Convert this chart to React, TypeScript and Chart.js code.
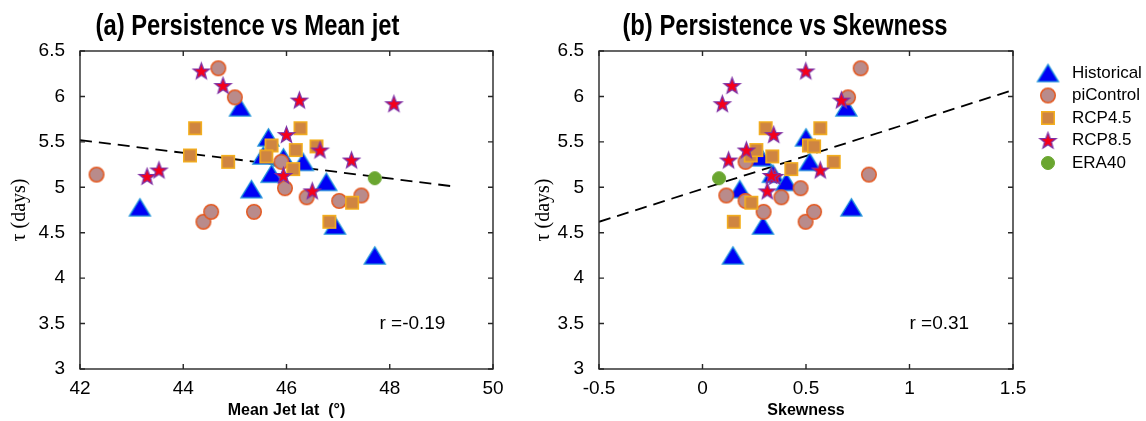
import { useEffect, useRef } from "react";
import { Chart, registerables } from "chart.js";
Chart.register(...registerables);

// ---------- data ----------
const tauHistorical = [4.78, 5.88, 4.98, 5.55, 5.35, 5.15, 5.33, 5.28, 5.06, 4.58, 4.25];
const jetHistorical = [43.16, 45.1, 45.32, 45.65, 45.55, 45.71, 45.94, 46.32, 46.77, 46.94, 47.71];
const skewHistorical = [0.719, 0.695, 0.18, 0.5, 0.27, 0.34, 0.285, 0.518, 0.405, 0.292, 0.147];

const tauPiControl = [6.31, 5.99, 5.14, 4.62, 4.73, 4.73, 5.28, 4.99, 4.89, 4.85, 4.91];
const jetPiControl = [44.68, 45.0, 42.32, 44.39, 44.54, 45.37, 45.9, 45.97, 46.39, 47.02, 47.45];
const skewPiControl = [0.764, 0.703, 0.804, 0.498, 0.539, 0.295, 0.208, 0.474, 0.381, 0.208, 0.115];

const tauRCP45 = [5.65, 5.65, 5.35, 5.28, 5.46, 5.34, 5.41, 5.45, 5.2, 4.62, 4.83];
const jetRCP45 = [44.23, 46.27, 44.13, 44.87, 45.71, 45.61, 46.18, 46.58, 46.13, 46.83, 47.27];
const skewRCP45 = [0.305, 0.569, 0.233, 0.634, 0.514, 0.337, 0.26, 0.539, 0.429, 0.151, 0.236];

const tauRCP85 = [6.28, 6.12, 5.96, 5.92, 5.58, 5.41, 5.3, 5.12, 5.19, 5.13, 4.96];
const jetRCP85 = [44.35, 44.77, 46.25, 48.08, 46.0, 46.65, 47.26, 43.3, 43.53, 45.94, 46.5];
const skewRCP85 = [0.499, 0.143, 0.671, 0.096, 0.344, 0.212, 0.126, 0.349, 0.569, 0.333, 0.313];

const tauERA40 = [5.1];
const jetERA40 = [47.71];
const skewERA40 = [0.08];

// regression line end points
const fitJetX = [42, 49.23];
const fitJetY = [5.52, 5.01];
const fitSkewX = [-0.5, 1.5];
const fitSkewY = [4.62, 6.07];

// tick labels
const tauTicks = [3, 3.5, 4, 4.5, 5, 5.5, 6, 6.5];
const jetTicks = [42, 44, 46, 48, 50];
const skewTicks = [-0.5, 0, 0.5, 1, 1.5];

const seriesLabels = ["Historical", "piControl", "RCP4.5", "RCP8.5", "ERA40"];
const rJet = "r =-0.19";
const rSkew = "r =0.31";

// ---------- styling ----------
const SANS = "'Liberation Sans', Arial, Helvetica, sans-serif";
const SERIF = "'Liberation Serif', 'DejaVu Serif', serif";

type Shape = "triangle" | "circle" | "square" | "star";

function makeMarker(shape: Shape, size: number, fill: string, stroke: string, lw: number): HTMLCanvasElement {
  const pad = 2;
  const s = Math.ceil(size + pad * 2);
  const c = document.createElement("canvas");
  c.width = s;
  c.height = s;
  const ctx = c.getContext("2d")!;
  const cx = s / 2;
  const cy = s / 2;
  const r = size / 2;
  ctx.fillStyle = fill;
  ctx.strokeStyle = stroke;
  ctx.lineWidth = lw;
  ctx.lineJoin = "miter";
  ctx.beginPath();
  if (shape === "triangle") {
    const h = size * 0.82;
    ctx.moveTo(cx, cy - h / 2);
    ctx.lineTo(cx + r, cy + h / 2);
    ctx.lineTo(cx - r, cy + h / 2);
    ctx.closePath();
  } else if (shape === "circle") {
    ctx.arc(cx, cy, r - lw / 2, 0, Math.PI * 2);
  } else if (shape === "square") {
    const h = r - lw / 2;
    ctx.rect(cx - h, cy - h, 2 * h, 2 * h);
  } else {
    const ro = r;
    const ri = r * 0.42;
    for (let i = 0; i < 10; i++) {
      const a = -Math.PI / 2 + (i * Math.PI) / 5;
      const rr = i % 2 === 0 ? ro : ri;
      const px = cx + rr * Math.cos(a);
      const py = cy + rr * Math.sin(a) + r * 0.08;
      if (i === 0) ctx.moveTo(px, py);
      else ctx.lineTo(px, py);
    }
    ctx.closePath();
  }
  ctx.fill();
  ctx.stroke();
  return c;
}

function zip(xs: number[], ys: number[]) {
  return xs.map((x, i) => ({ x, y: ys[i] }));
}

const framePlugin = {
  id: "frame",
  afterDatasetsDraw(chart: any) {
    const { ctx, chartArea } = chart;
    const { left, right, top, bottom } = chartArea;
    const xs = chart.scales.x;
    const ys = chart.scales.y;
    ctx.save();
    ctx.strokeStyle = "#262626";
    ctx.lineWidth = 1.4;
    ctx.strokeRect(left, top, right - left, bottom - top);
    const tl = 5;
    ctx.beginPath();
    xs.ticks.forEach((t: any) => {
      const px = xs.getPixelForValue(t.value);
      ctx.moveTo(px, bottom);
      ctx.lineTo(px, bottom - tl);
      ctx.moveTo(px, top);
      ctx.lineTo(px, top + tl);
    });
    ys.ticks.forEach((t: any) => {
      const py = ys.getPixelForValue(t.value);
      ctx.moveTo(left, py);
      ctx.lineTo(left + tl, py);
      ctx.moveTo(right, py);
      ctx.lineTo(right - tl, py);
    });
    ctx.stroke();
    ctx.restore();
  },
};

const rLabelPlugin = {
  id: "rlabel",
  afterDatasetsDraw(chart: any, _args: any, opts: any) {
    if (!opts || !opts.text) return;
    const { ctx } = chart;
    const px = chart.scales.x.getPixelForValue(opts.x);
    const py = chart.scales.y.getPixelForValue(opts.y);
    ctx.save();
    ctx.font = `19px ${SANS}`;
    ctx.fillStyle = "#000";
    ctx.textAlign = "left";
    ctx.textBaseline = "middle";
    ctx.fillText(opts.text, px, py);
    ctx.restore();
  },
};

// condensed bold panel title (Helvetica-Narrow look)
const narrowTitlePlugin = {
  id: "narrowTitle",
  afterDraw(chart: any, _args: any, opts: any) {
    if (!opts || !opts.text) return;
    const { ctx } = chart;
    ctx.save();
    ctx.translate(opts.cx, opts.baseline);
    ctx.scale(opts.squeeze, 1);
    ctx.font = `bold ${opts.size}px ${SANS}`;
    ctx.fillStyle = "#000";
    ctx.textAlign = "center";
    ctx.textBaseline = "alphabetic";
    ctx.fillText(opts.text, 0, 0);
    ctx.restore();
  },
};

const legendPlugin = {
  id: "sideLegend",
  afterDraw(chart: any, _args: any, opts: any) {
    if (!opts || !opts.show) return;
    const { ctx } = chart;
    ctx.save();
    ctx.font = `17px ${SANS}`;
    ctx.fillStyle = "#000";
    ctx.textAlign = "left";
    ctx.textBaseline = "middle";
    chart.data.datasets.forEach((ds: any, i: number) => {
      if (ds.isFit) return;
      const y = opts.y0 + i * opts.dy;
      const img = opts.icons[i];
      ctx.drawImage(img, opts.x - img.width / 2, y - img.height / 2);
      ctx.fillText(ds.label, opts.x + opts.textGap, y);
    });
    ctx.restore();
  },
};

function buildConfig(p: {
  title: string;
  titleCx: number;
  xTitle: string;
  xMin: number;
  xMax: number;
  xTicks: number[];
  xs: number[][];
  fitX: number[];
  fitY: number[];
  rText: string;
  rX: number;
  yAxisWidth: number;
  padRight: number;
  icons: HTMLCanvasElement[];
  legend: boolean;
  legendX: number;
}) {
  const ysAll = [tauHistorical, tauPiControl, tauRCP45, tauRCP85, tauERA40];
  const datasets: any[] = seriesLabels.map((label, i) => ({
    label,
    data: zip(p.xs[i], ysAll[i]),
    pointStyle: p.icons[i],
    pointRadius: 3,
    pointHoverRadius: 3,
    order: 5 - i,
  }));
  datasets.push({
    label: "fit",
    isFit: true,
    data: zip(p.fitX, p.fitY),
    showLine: true,
    borderColor: "#000",
    borderWidth: 1.8,
    borderDash: [12, 7],
    pointRadius: 0,
    pointHoverRadius: 0,
    fill: false,
    order: 10,
  });
  return {
    type: "scatter",
    data: { datasets },
    options: {
      responsive: false,
      animation: false,
      devicePixelRatio: 1,
      events: [],
      layout: { padding: { left: 0, right: p.padRight, top: 51, bottom: 0 } },
      plugins: {
        legend: { display: false },
        tooltip: { enabled: false },
        title: { display: false },
        narrowTitle: { text: p.title, cx: p.titleCx, baseline: 35, size: 29, squeeze: 0.82 },
        rlabel: { text: p.rText, x: p.rX, y: 3.5 },
        sideLegend: { show: p.legend, icons: p.icons, x: p.legendX, y0: 73, dy: 22.5, textGap: 24 },
      },
      scales: {
        x: {
          type: "linear",
          min: p.xMin,
          max: p.xMax,
          afterBuildTicks: (s: any) => {
            s.ticks = p.xTicks.map((v) => ({ value: v }));
          },
          afterFit: (s: any) => {
            s.height = 52;
          },
          grid: { display: false, drawTicks: false },
          border: { display: false },
          ticks: {
            color: "#000",
            font: { family: SANS, size: 19 },
            padding: 8,
            maxRotation: 0,
            autoSkip: false,
            callback: (v: any) => String(v),
          },
          title: {
            display: true,
            text: p.xTitle,
            color: "#000",
            font: { family: SANS, weight: "bold", size: 16, lineHeight: 1.2 },
            padding: { top: 0, bottom: 1 },
          },
        },
        y: {
          type: "linear",
          min: 3,
          max: 6.5,
          afterBuildTicks: (s: any) => {
            s.ticks = tauTicks.map((v) => ({ value: v }));
          },
          afterFit: (s: any) => {
            s.width = p.yAxisWidth;
          },
          grid: { display: false, drawTicks: false },
          border: { display: false },
          ticks: {
            color: "#000",
            font: { family: SANS, size: 19 },
            padding: 15,
            autoSkip: false,
            callback: (v: any) => String(v),
          },
          title: {
            display: true,
            text: "τ (days)",
            color: "#000",
            font: { family: SERIF, size: 20, lineHeight: 1.2 },
            padding: { top: 8, bottom: 0 },
          },
        },
      },
    },
    plugins: [framePlugin, rLabelPlugin, legendPlugin, narrowTitlePlugin],
  };
}

const LEFT_B = 524;

export default function App() {
  const refA = useRef<HTMLCanvasElement>(null);
  const refB = useRef<HTMLCanvasElement>(null);

  useEffect(() => {
    const icons = [
      makeMarker("triangle", 21, "#0000f5", "#1a90d8", 1.3),
      makeMarker("circle", 16, "#b98b8b", "#e4581f", 1.5),
      makeMarker("square", 14, "#cf8541", "#f5b01e", 1.5),
      makeMarker("star", 17, "#f5001a", "#7f2ea3", 1.3),
      makeMarker("circle", 14, "#6aa630", "#6aa630", 1),
    ];
    const chartA = new Chart(
      refA.current!,
      buildConfig({
        title: "(a) Persistence vs Mean jet",
        titleCx: 247.5,
        xTitle: "Mean Jet lat  (°)",
        xMin: 42,
        xMax: 50,
        xTicks: jetTicks,
        xs: [jetHistorical, jetPiControl, jetRCP45, jetRCP85, jetERA40],
        fitX: fitJetX,
        fitY: fitJetY,
        rText: rJet,
        rX: 47.8,
        yAxisWidth: 80,
        padRight: 47,
        icons,
        legend: false,
        legendX: 0,
      }) as any
    );
    const chartB = new Chart(
      refB.current!,
      buildConfig({
        title: "(b) Persistence vs Skewness",
        titleCx: 785 - LEFT_B,
        xTitle: "Skewness",
        xMin: -0.5,
        xMax: 1.5,
        xTicks: skewTicks,
        xs: [skewHistorical, skewPiControl, skewRCP45, skewRCP85, skewERA40],
        fitX: fitSkewX,
        fitY: fitSkewY,
        rText: rSkew,
        rX: 1.0,
        yAxisWidth: 599 - LEFT_B,
        padRight: 1146 - 1013,
        icons,
        legend: true,
        legendX: 1048 - LEFT_B,
      }) as any
    );
    return () => {
      chartA.destroy();
      chartB.destroy();
    };
  }, []);

  return (
    <div style={{ position: "fixed", left: 0, top: 0, width: 1146, height: 421, background: "#fff" }}>
      <canvas ref={refA} width={540} height={421} style={{ position: "absolute", left: 0, top: 0 }} />
      <canvas
        ref={refB}
        width={1146 - LEFT_B}
        height={421}
        style={{ position: "absolute", left: LEFT_B, top: 0 }}
      />
    </div>
  );
}
